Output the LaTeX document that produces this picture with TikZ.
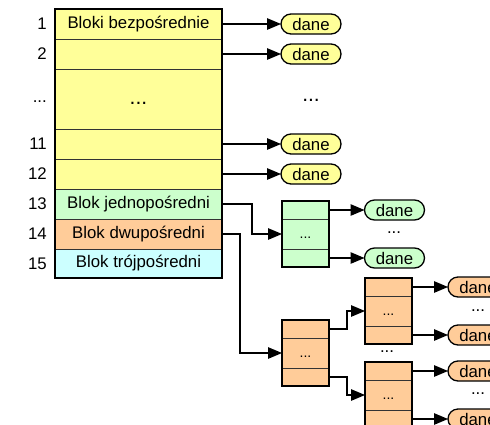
\documentclass[tikz,border=0pt]{standalone}
\usepackage{fontspec}
\setmainfont{Liberation Sans}
\usetikzlibrary{arrows.meta}
\definecolor{cyel}{HTML}{FFFF99}
\definecolor{cgrn}{HTML}{CCFFCC}
\definecolor{corg}{HTML}{FFCC99}
\definecolor{ccyn}{HTML}{CCFFFF}
\tikzset{
  row/.style={draw=black!80, line width=0.8pt, minimum width=167pt, inner sep=0pt, outer sep=0pt, anchor=north},
  cell/.style={draw=black!80, line width=0.8pt, minimum width=47pt, inner sep=0pt, outer sep=0pt, anchor=north},
  frame/.style={draw=black, line width=1.5pt},
  dane/.style={draw=black, line width=1.3pt, rounded corners=10pt, minimum width=60pt, minimum height=20pt, inner sep=0pt, outer sep=0pt},
  num/.style={anchor=east, inner sep=0pt},
  dots/.style={anchor=base, inner sep=0pt},
  bigdots/.style={dots, font=\fontsize{21}{24}\selectfont},
  arr/.style={line width=1.2pt, -{Triangle[length=14pt,width=11.5pt]}}
}
% three-cell pointer block: name, centre x, top y, fill colour
\newcommand{\tribox}[4]{%
  \node[cell, fill=#4, minimum height=18pt] (#1t) at (#2,#3) {};
  \node[cell, fill=#4, minimum height=30pt] (#1m) at (#1t.south) {\fontsize{14}{16}\selectfont\vphantom{A}...};
  \node[cell, fill=#4, minimum height=18pt] (#1b) at (#1m.south) {};
  \draw[frame] (#1t.north west) rectangle (#1b.south east);
}
\begin{document}
\begin{tikzpicture}[x=1pt, y=-1pt, font=\fontsize{16.8}{20}\selectfont]
\useasboundingbox (0,0) rectangle (490,424);
\clip (0,0) rectangle (490,424);

% i-node address table
\node[row, fill=cyel, minimum height=30pt] (r1) at (138.5,9) {Bloki bezpośrednie};
\node[row, fill=cyel, minimum height=30pt] (r2) at (138.5,39) {};
\node[row, fill=cyel, minimum height=60pt] (rd) at (138.5,69) {};
\node[row, fill=cyel, minimum height=30pt] (r11) at (138.5,129) {};
\node[row, fill=cyel, minimum height=30pt] (r12) at (138.5,159) {};
\node[row, fill=cgrn, minimum height=30pt] (r13) at (138.5,189) {Blok jednopośredni};
\node[row, fill=corg, minimum height=30pt] (r14) at (138.5,219) {Blok dwupośredni};
\node[row, fill=ccyn, minimum height=29pt] (r15) at (138.5,249) {Blok trójpośredni};
\draw[frame] (r1.north west) rectangle (r15.south east);
\node[bigdots] (tdots) at (138.5,104) {...};

% row numbers
\node[num] (n1) at (47,24) {1};
\node[num] (n2) at (47,54) {2};
\node[dots, anchor=base east] (nd) at (47,102) {...};
\node[num] (n11) at (47,144) {11};
\node[num] (n12) at (47,174) {12};
\node[num] (n13) at (47,204) {13};
\node[num] (n14) at (47,234) {14};
\node[num] (n15) at (47,263.5) {15};

% direct data blocks
\node[dane, fill=cyel] (d1) at (311,24) {dane};
\node[dane, fill=cyel] (d2) at (311,54) {dane};
\node[bigdots] (ddots) at (311,101) {...};
\node[dane, fill=cyel] (d11) at (311,144) {dane};
\node[dane, fill=cyel] (d12) at (311,174) {dane};
\draw[arr] (r1.east) -- (d1.west);
\draw[arr] (r2.east) -- (d2.west);
\draw[arr] (r11.east) -- (d11.west);
\draw[arr] (r12.east) -- (d12.west);

% single indirect
\tribox{g}{305.5}{201}{cgrn}
\node[dane, fill=cgrn] (gd1) at (394.5,210) {dane};
\node[dots] (gdots) at (394,233) {...};
\node[dane, fill=cgrn] (gd2) at (394.5,258) {dane};
\coordinate (j13) at (252,0);
\draw[arr] (r13.east) -- (r13.east -| j13) |- (gm.west);
\draw[arr] (gt.east) -- (gd1.west);
\draw[arr] (gb.east) -- (gd2.west);

% double indirect
\tribox{o}{305.5}{320}{corg}
\tribox{a}{388.5}{278}{corg}
\tribox{b}{388.5}{362}{corg}
\node[dots] (abdots) at (387,352) {...};
\coordinate (j14) at (240,0);
\coordinate (jo) at (347,0);
\draw[arr] (r14.east) -- (r14.east -| j14) |- (om.west);
\draw[arr] (ot.east) -- (ot.east -| jo) |- (am.west);
\draw[arr] (ob.east) -- (ob.east -| jo) |- (bm.west);

\node[dane, fill=corg] (ad1) at (478,287) {dane};
\node[dots] (adots) at (478,311) {...};
\node[dane, fill=corg] (ad2) at (478,335) {dane};
\node[dane, fill=corg] (bd1) at (478,371) {dane};
\node[dots] (bdots) at (478,394) {...};
\node[dane, fill=corg] (bd2) at (478,419) {dane};
\draw[arr] (at.east) -- (ad1.west);
\draw[arr] (ab.east) -- (ad2.west);
\draw[arr] (bt.east) -- (bd1.west);
\draw[arr] (bb.east) -- (bd2.west);
\end{tikzpicture}
\end{document}
